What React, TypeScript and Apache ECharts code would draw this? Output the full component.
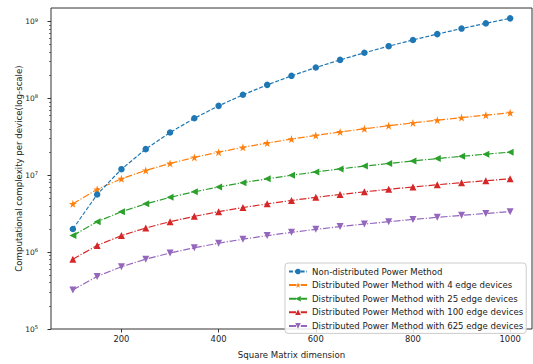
import React, { useEffect, useRef } from "react";
import * as echarts from "echarts";

const matrixDims = [100, 150, 200, 250, 300, 350, 400, 450, 500, 550, 600, 650, 700, 750, 800, 850, 900, 950, 1000];
const nonDistributed = [2000000, 5625000, 12000000, 21875000, 36000000, 55125000, 80000000, 111375000, 150000000, 196625000, 252000000, 316875000, 392000000, 478125000, 576000000, 686375000, 810000000, 947625000, 1100000000];
const dist4 = [4250000, 6562500, 9000000, 11562500, 14250000, 17062500, 20000000, 23062500, 26250000, 29562500, 33000000, 36562500, 40250000, 44062500, 48000000, 52062500, 56250000, 60562500, 65000000];
const dist25 = [1640000, 2490000, 3360000, 4250000, 5160000, 6090000, 7040000, 8010000, 9000000, 10010000, 11040000, 12090000, 13160000, 14250000, 15360000, 16490000, 17640000, 18810000, 20000000];
const dist100 = [810000, 1222500, 1640000, 2062500, 2490000, 2922500, 3360000, 3802500, 4250000, 4702500, 5160000, 5622500, 6090000, 6562500, 7040000, 7522500, 8010000, 8502500, 9000000];
const dist625 = [321600, 483600, 646400, 810000, 974400, 1139600, 1305600, 1472400, 1640000, 1808400, 1977600, 2147600, 2318400, 2490000, 2662400, 2835600, 3009600, 3184400, 3360000];

const seriesNames = [
  "Non-distributed Power Method",
  "Distributed Power Method with 4 edge devices",
  "Distributed Power Method with 25 edge devices",
  "Distributed Power Method with 100 edge devices",
  "Distributed Power Method with 625 edge devices",
];
const xTickValues = [200, 400, 600, 800, 1000];
const yMajorTicks = [1e5, 1e6, 1e7, 1e8, 1e9];

const STAR = "path://M50,0 L61.2,34.5 L97.6,34.5 L68.2,55.9 L79.4,90.5 L50,69.1 L20.6,90.5 L31.8,55.9 L2.4,34.5 L38.8,34.5 Z";

export default function App() {
  const ref = useRef<HTMLDivElement>(null);
  useEffect(() => {
    if (!ref.current) return;
    const chart = echarts.init(ref.current, null, { renderer: "svg" });
    const minorTicks: number[] = [];
    for (let d = 5; d <= 9; d++) {
      for (let k = 2; k <= 9; k++) minorTicks.push(k * Math.pow(10, d));
    }
    const font = "DejaVu Sans";
    const dash = [4, 1.8];
    const dashDot = [7, 1.8, 1.2, 1.8];
    const colors = ["#1f77b4", "#ff7f0e", "#2ca02c", "#d62728", "#9467bd"];
    const datasets = [nonDistributed, dist4, dist25, dist100, dist625];
    const symbols = ["circle", STAR, "triangle", "triangle", "triangle"];
    const rotations = [0, 0, 90, 0, 180];
    const sizes = [6.5, 8, 7, 7, 7];
    const series = datasets.map((arr, i) => ({
      name: seriesNames[i],
      type: "line",
      data: matrixDims.map((x, j) => [x, arr[j]]),
      symbol: symbols[i],
      symbolSize: sizes[i],
      symbolRotate: rotations[i],
      showAllSymbol: true,
      color: colors[i],
      itemStyle: { color: colors[i] },
      lineStyle: { color: colors[i], width: 1.2, type: i === 0 ? dash : dashDot },
      z: 10 - i,
    }));
    chart.setOption({
      animation: false,
      textStyle: { fontFamily: font },
      grid: {
        left: 51,
        right: 1,
        top: 8,
        bottom: 29,
        show: true,
        borderColor: "#333",
        borderWidth: 1,
        backgroundColor: "transparent",
      },
      legend: {
        left: 285,
        top: 263,
        orient: "vertical",
        itemWidth: 18,
        itemHeight: 7,
        itemGap: 4.6,
        padding: [4, 3, 3, 3],
        backgroundColor: "rgba(255,255,255,0.85)",
        borderColor: "#cccccc",
        borderWidth: 1,
        borderRadius: 3,
        textStyle: { fontFamily: font, fontSize: 8.6, color: "#222", padding: [0, 0, 0, 0] },
        data: seriesNames,
      },
      xAxis: {
        type: "value",
        min: 55,
        max: 1045,
        name: "Square Matrix dimension",
        nameLocation: "middle",
        nameGap: 21,
        nameMoveOverlap: false,
        nameTextStyle: { fontFamily: font, fontSize: 8.6, color: "#222" },
        axisLine: { show: false },
        splitLine: { show: false },
        axisTick: { show: true, length: 3.5, lineStyle: { color: "#333" }, customValues: xTickValues },
        axisLabel: {
          fontFamily: font,
          fontSize: 8.4,
          color: "#222",
          margin: 6,
          customValues: xTickValues,
          formatter: (v: number) => String(v),
        },
      },
      yAxis: [
        {
          type: "log",
          logBase: 10,
          min: 1e5,
          max: 1.5e9,
          name: "Computational complexity per device(log-scale)",
          nameLocation: "middle",
          nameGap: 28,
          nameMoveOverlap: false,
          nameTextStyle: { fontFamily: font, fontSize: 8.6, color: "#222" },
          axisLine: { show: false },
          splitLine: { show: false },
          axisTick: { show: true, length: 3.5, lineStyle: { color: "#333" }, customValues: yMajorTicks },
          axisLabel: {
            fontFamily: font,
            color: "#222",
            margin: 13,
            customValues: yMajorTicks,
            formatter: (v: number) => {
              const e = Math.round(Math.log10(v));
              if (Math.abs(Math.log10(v) - e) > 1e-6) return "";
              return "{b|10}{s|" + e + "}";
            },
            rich: {
              b: { fontFamily: font, fontSize: 7.5, color: "#222" },
              s: { fontFamily: font, fontSize: 5.2, color: "#222", padding: [0, 0, 4, 0] },
            },
          },
        },
        {
          type: "log",
          logBase: 10,
          min: 1e5,
          max: 1.5e9,
          position: "left",
          axisLine: { show: false },
          splitLine: { show: false },
          axisLabel: { show: false },
          axisTick: { show: true, length: 2, lineStyle: { color: "#333", width: 0.7 }, customValues: minorTicks },
        },
      ],
      series,
    });
    return () => chart.dispose();
  }, []);
  return (
    <div
      ref={ref}
      style={{ position: "fixed", left: 0, top: 0, width: 533, height: 364, background: "#fff" }}
    />
  );
}
